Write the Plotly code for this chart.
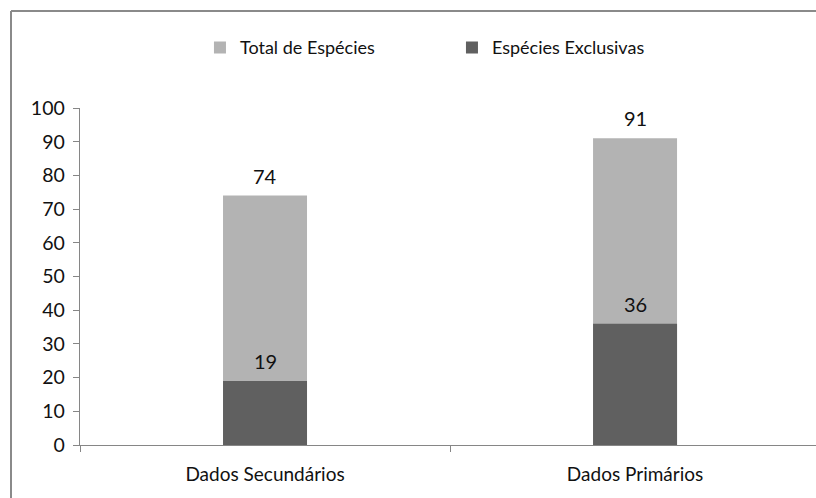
import plotly.graph_objects as go

categories = ["Dados Secundários", "Dados Primários"]
total_especies = [74, 91]
especies_exclusivas = [19, 36]
y_ticks = [0, 10, 20, 30, 40, 50, 60, 70, 80, 90, 100]

FONT = "Lato, 'Open Sans', sans-serif"
LIGHT = "#B3B3B3"
DARK = "#606060"
AXIS = "#868686"
TXT = "#111111"
BORDER = "#8A8A8A"

xpos = list(range(len(categories)))

fig = go.Figure()
fig.add_trace(go.Bar(
    x=xpos, y=total_especies, name="Total de Espécies",
    marker=dict(color=LIGHT, line=dict(width=0)), width=0.227,
    hoverinfo="skip",
))
fig.add_trace(go.Bar(
    x=xpos, y=especies_exclusivas, name="Espécies Exclusivas",
    marker=dict(color=DARK, line=dict(width=0)), width=0.227,
    hoverinfo="skip",
))

annotations = []
for series in (total_especies, especies_exclusivas):
    for xi, v in zip(xpos, series):
        annotations.append(dict(
            x=xi, y=v, xref="x", yref="y", text=str(v), showarrow=False,
            yanchor="middle", xanchor="center", yshift=20,
            font=dict(size=20, family=FONT, color=TXT),
        ))

bx0 = (11 - 80) / 736
by1 = (445 - 11) / 337

fig.update_layout(
    width=816, height=498,
    margin=dict(l=80, r=0, t=108, b=53),
    barmode="overlay",
    paper_bgcolor="white", plot_bgcolor="white",
    font=dict(family=FONT, size=19, color=TXT),
    showlegend=True,
    hovermode=False,
    legend=dict(
        orientation="h", x=0.163, xanchor="left", y=1.179, yanchor="middle",
        entrywidth=207, entrywidthmode="pixels", itemwidth=30,
        font=dict(size=18, family=FONT, color=TXT),
        traceorder="normal",
    ),
    xaxis=dict(
        range=[-0.5, 1.989 - 0.5], tickmode="array", tickvals=xpos, ticktext=categories,
        ticks="", showline=True, linecolor=AXIS, linewidth=1.3, showgrid=False,
        zeroline=False, tickfont=dict(size=19, family=FONT, color=TXT),
        ticklabelstandoff=12,
        minor=dict(ticks="outside", tick0=0.5, dtick=1, ticklen=6, tickcolor=AXIS, showgrid=False),
        fixedrange=True,
    ),
    yaxis=dict(
        range=[0, 100], tickmode="array", tickvals=y_ticks,
        ticks="outside", ticklen=6, tickcolor=AXIS, showline=True, linecolor=AXIS,
        linewidth=1.3, showgrid=False, zeroline=False,
        tickfont=dict(size=19.5, family=FONT, color=TXT), ticklabelstandoff=4,
        fixedrange=True,
    ),
    annotations=annotations,
    shapes=[
        dict(type="line", xref="paper", yref="paper", x0=bx0, x1=bx0, y0=-0.3, y1=by1,
             line=dict(color=BORDER, width=2), layer="below"),
        dict(type="line", xref="paper", yref="paper", x0=bx0, x1=1.05, y0=by1, y1=by1,
             line=dict(color=BORDER, width=2), layer="below"),
    ],
)

fig.write_html(
    "out.html",
    config={"displayModeBar": False, "staticPlot": True},
    post_script=(
        "document.documentElement.style.overflow='hidden';"
        "document.documentElement.style.margin='0';"
        "document.body.style.margin='0';document.body.style.overflow='hidden';"
    ),
)
